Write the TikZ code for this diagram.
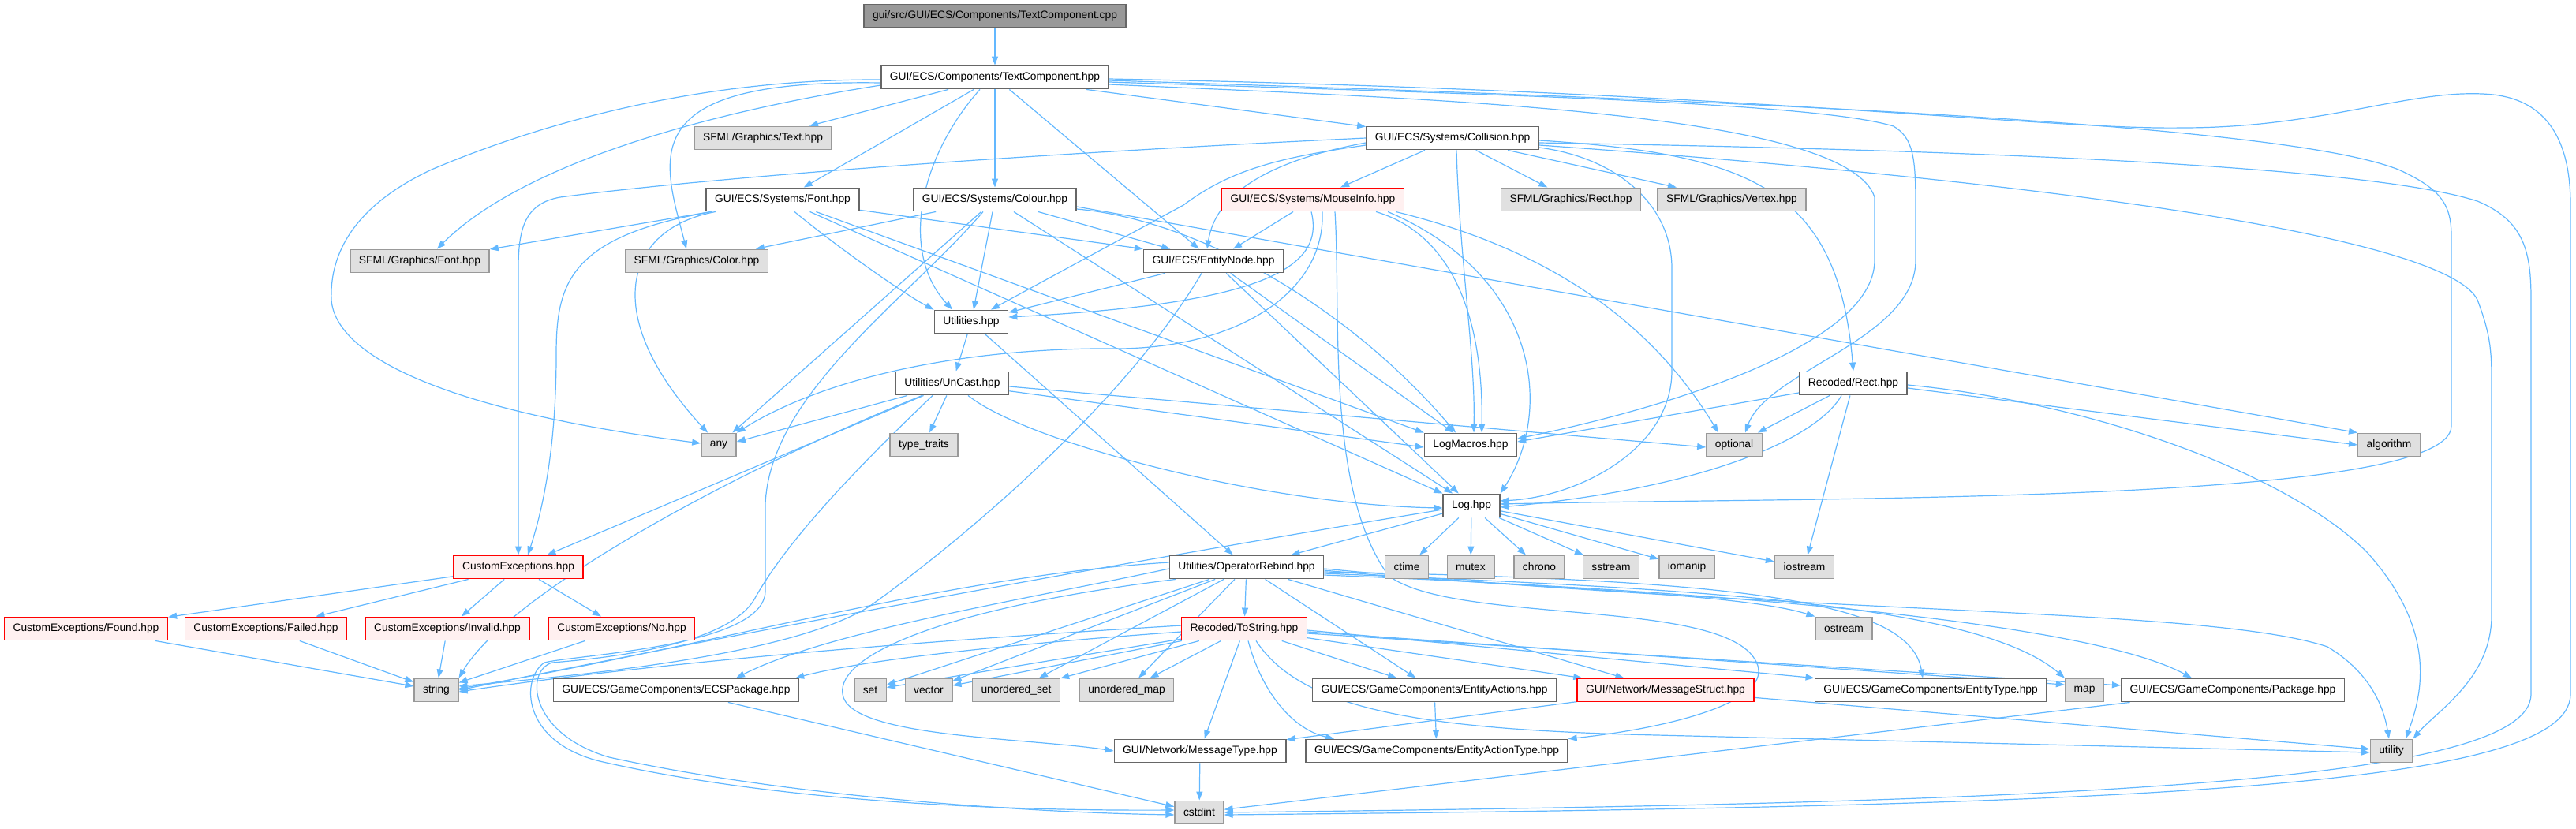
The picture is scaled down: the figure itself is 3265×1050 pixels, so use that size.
\documentclass[tikz,border=0pt]{standalone}
\usepackage{fontspec}
\setmainfont{Liberation Sans}
\usetikzlibrary{arrows.meta}
\pgfdeclarelayer{edges}
\pgfsetlayers{edges,main}
\definecolor{edgeblue}{HTML}{63B8FF}
\definecolor{boxline}{HTML}{666666}
\definecolor{sysline}{HTML}{999999}
\definecolor{sysfill}{HTML}{E0E0E0}
\definecolor{rootfill}{HTML}{999999}
\definecolor{redfill}{HTML}{FFF0F0}
\definecolor{redline}{HTML}{FF0000}
\tikzset{
	box/.style={draw=boxline, fill=white, line width=1.4pt, minimum height=29.5pt, inner xsep=11pt, inner ysep=0pt, font=\fontsize{13.8}{16}\selectfont},
	sys/.style={box, draw=sysline, fill=sysfill},
	trunc/.style={box, draw=redline, fill=redfill},
	root/.style={box, fill=rootfill},
	incl/.style={draw=edgeblue, line width=1.2pt, -{Triangle[length=11pt,width=8pt]}}
}

\begin{document}
\begin{tikzpicture}[x=1pt, y=-1pt]
			%%%%% START %%%%%
			\useasboundingbox (0,0) rectangle (3265,1050);
			
			\node[root] (cpp) at (1261,20) {gui/src/GUI/ECS/Components/TextComponent.cpp};
			\node[box] (tc) at (1261,98) {GUI/ECS/Components/TextComponent.hpp};
			
			\node[sys] (sfText) at (967,175) {SFML/Graphics/Text.hpp};
			\node[box] (coll) at (1841,175) {GUI/ECS/Systems/Collision.hpp};
			
			\node[box] (sysFont) at (992,253) {GUI/ECS/Systems/Font.hpp};
			\node[box] (colour) at (1261,253) {GUI/ECS/Systems/Colour.hpp};
			\node[trunc] (mouse) at (1664,253) {GUI/ECS/Systems/MouseInfo.hpp};
			\node[sys] (sfRect) at (1991,253) {SFML/Graphics/Rect.hpp};
			\node[sys] (sfVertex) at (2195,253) {SFML/Graphics/Vertex.hpp};
			
			\node[sys] (sfFont) at (532,331) {SFML/Graphics/Font.hpp};
			\node[sys] (sfColor) at (883,331) {SFML/Graphics/Color.hpp};
			\node[box] (entity) at (1538,331) {GUI/ECS/EntityNode.hpp};
			
			\node[box] (util) at (1231,408) {Utilities.hpp};
			\node[box] (uncast) at (1207,486) {Utilities/UnCast.hpp};
			\node[box] (rrect) at (2349,486) {Recoded/Rect.hpp};
			
			\node[sys] (any) at (911,564) {any};
			\node[sys] (traits) at (1171,564) {type\_traits};
			\node[box] (logm) at (1864,564) {LogMacros.hpp};
			\node[sys] (optional) at (2198,564) {optional};
			\node[sys] (algorithm) at (3028,564) {algorithm};
			
			\node[box] (log) at (1865,641) {Log.hpp};
			
			\node[trunc] (cexc) at (657,719) {CustomExceptions.hpp};
			\node[box] (oprb) at (1580,719) {Utilities/OperatorRebind.hpp};
			\node[sys] (ctime) at (1783,719) {ctime};
			\node[sys] (mutex) at (1864,719) {mutex};
			\node[sys] (chrono) at (1951,719) {chrono};
			\node[sys] (sstream) at (2042,719) {sstream};
			\node[sys] (iomanip) at (2138,719) {iomanip};
			\node[sys] (iostream) at (2287,719) {iostream};
			
			\node[trunc] (found) at (109,797) {CustomExceptions/Found.hpp};
			\node[trunc] (failed) at (337,797) {CustomExceptions/Failed.hpp};
			\node[trunc] (invalid) at (567,797) {CustomExceptions/Invalid.hpp};
			\node[trunc] (cno) at (788,797) {CustomExceptions/No.hpp};
			\node[trunc] (tostr) at (1577,797) {Recoded/ToString.hpp};
			\node[sys] (ostream) at (2337,797) {ostream};
			
			\node[sys] (string) at (553,875) {string};
			\node[box] (ecspkg) at (857,875) {GUI/ECS/GameComponents/ECSPackage.hpp};
			\node[sys] (set) at (1103,875) {set};
			\node[sys] (vector) at (1177,875) {vector};
			\node[sys] (uset) at (1288,875) {unordered\_set};
			\node[sys] (umap) at (1428,875) {unordered\_map};
			\node[box] (eactions) at (1818,875) {GUI/ECS/GameComponents/EntityActions.hpp};
			\node[trunc] (mstruct) at (2111,875) {GUI/Network/MessageStruct.hpp};
			\node[box] (etype) at (2447,875) {GUI/ECS/GameComponents/EntityType.hpp};
			\node[sys] (map) at (2642,875) {map};
			\node[box] (package) at (2830,875) {GUI/ECS/GameComponents/Package.hpp};
			
			\node[box] (mtype) at (1521,952) {GUI/Network/MessageType.hpp};
			\node[box] (eatype) at (1821,952) {GUI/ECS/GameComponents/EntityActionType.hpp};
			\node[sys] (utility) at (3031,952) {utility};
			
			\node[sys] (cstdint) at (1520,1030) {cstdint};
			
			\begin{pgfonlayer}{edges}
			% TextComponent
			\draw[incl] (cpp) -- (tc);
			\draw[incl] (tc) -- (sfText);
			\draw[incl] (tc) -- (sysFont);
			\draw[incl] (tc) -- (colour);
			\draw[incl] (tc) -- (coll);
			\draw[incl] (tc) -- (entity);
			\draw[incl] ([xshift=-19pt]tc.south) .. controls (1165,200) and (1140,320) .. ([xshift=-24pt]util.north);
			\draw[incl] ([yshift=-7pt]tc.west) .. controls (800,100) and (840,200) .. ([xshift=-13pt]sfColor.north);
			\draw[incl] ([yshift=-10pt]tc.west) .. controls (850,150) and (650,220) .. ([xshift=22pt]sfFont.north);
			\draw[incl] ([yshift=-3pt]tc.west) .. controls (900,100) and (700,150) .. (547,215) .. controls (440,265) and (418,330) .. (420,380) .. controls (425,450) and (560,520) .. ([yshift=2pt]any.west);
			\draw[incl] ([yshift=-9pt]tc.east) .. controls (1800,125) and (2340,140) .. (2376,250) -- (2376,330) .. controls (2376,440) and (2100,520) .. ([yshift=8pt]logm.east);
			\draw[incl] ([yshift=-6pt]tc.east) .. controls (1900,120) and (2300,130) .. (2400,160) .. controls (2425,175) and (2428,200) .. (2428,260) -- (2428,330) .. controls (2428,430) and (2240,470) .. ([xshift=14pt]optional.north);
			\draw[incl] ([yshift=-4pt]tc.east) .. controls (2300,130) and (2900,160) .. (3040,215) .. controls (3095,240) and (3107,260) .. (3107,300) -- (3107,540) .. controls (3107,640) and (2300,630) .. ([yshift=2pt]log.east);
			\draw[incl] ([yshift=-2pt]tc.east) .. controls (2200,115) and (2600,165) .. (2766,162) .. controls (2950,162) and (3060,110) .. (3160,120) .. controls (3230,128) and (3258,180) .. (3258,260) -- (3258,880) .. controls (3258,1000) and (2700,1022) .. ([yshift=-3pt]cstdint.east);
			
			% Collision
			\draw[incl] (coll) -- (mouse);
			\draw[incl] (coll) -- (sfRect);
			\draw[incl] (coll) -- (sfVertex);
			\draw[incl] ([yshift=-6pt]coll.west) .. controls (1600,205) and (1540,250) .. ([xshift=-8pt]entity.north);
			\draw[incl] ([yshift=-9pt]coll.west) .. controls (1620,200) and (1560,215) .. (1500,260) -- ([xshift=25pt]util.north);
			\draw[incl] (coll.west) .. controls (1300,195) and (900,225) .. (710,250) .. controls (665,258) and (657,290) .. (657,340) -- (cexc);
			\draw[incl] ([xshift=5pt]coll.south) .. controls (1850,330) and (1870,450) .. ([xshift=4pt]logm.north);
			\draw[incl] ([yshift=-12pt]coll.east) .. controls (2050,200) and (2119,260) .. (2119,340) -- (2119,470) .. controls (2119,570) and (2000,630) .. ([yshift=6pt]log.east);
			\draw[incl] ([yshift=-3pt]coll.east) .. controls (2220,195) and (2330,240) .. (rrect.north);
			\draw[incl] ([yshift=-6pt]coll.east) .. controls (2500,190) and (3000,210) .. (3140,255) .. controls (3200,280) and (3208,320) .. (3208,380) -- (3208,880) .. controls (3208,995) and (2600,1018) .. (cstdint.east);
			\draw[incl] ([yshift=-9pt]coll.east) .. controls (2600,230) and (3100,300) .. (3140,380) .. controls (3155,420) and (3158,440) .. (3158,480) -- (3158,780) .. controls (3158,860) and (3090,900) .. (utility.north east);
			
			% Font
			\draw[incl] (sysFont) -- (sfFont);
			\draw[incl] ([xshift=-85pt]sysFont.south) .. controls (790,290) and (760,400) .. ([xshift=-14pt]any.north);
			\draw[incl] ([xshift=-90pt]sysFont.south) .. controls (720,300) and (705,360) .. (705,450) .. controls (705,560) and (690,640) .. ([xshift=12pt]cexc.north);
			\draw[incl] ([xshift=15pt]sysFont.south) .. controls (1070,320) and (1150,375) .. (util.north west);
			\draw[incl] (sysFont) -- (entity.north west);
			\draw[incl] (sysFont) -- (logm.north west);
			\draw[incl] (sysFont) -- (log.north west);
			
			% Colour
			\draw[incl] (colour) -- (sfColor);
			\draw[incl] (colour) -- (any);
			\draw[incl] (colour) -- (util);
			\draw[incl] (colour) -- (entity);
			\draw[incl] (colour) -- (log);
			\draw[incl] ([yshift=-12pt]colour.east) .. controls (1530,280) and (1720,400) .. ([xshift=-19pt]logm.north);
			\draw[incl] ([yshift=-9pt]colour.east) -- (algorithm.north west);
			\draw[incl] ([xshift=-15pt]colour.south) .. controls (1150,380) and (975,500) .. (970,640) -- (970,750) .. controls (968,820) and (730,830) .. (690,840) .. controls (660,860) and (660,940) .. (760,965) .. controls (1000,1020) and (1300,1028) .. ([yshift=3pt]cstdint.west);
			
			% MouseInfo
			\draw[incl] (mouse) -- (entity);
			\draw[incl] ([xshift=-2pt]mouse.south) .. controls (1680,340) and (1600,385) .. ([yshift=6pt]util.east);
			\draw[incl] ([xshift=12pt]mouse.south) .. controls (1680,370) and (1570,440) .. (1420,442) .. controls (1250,440) and (1060,470) .. (any.north east);
			\draw[incl] ([xshift=80pt]mouse.south) .. controls (1850,300) and (1880,420) .. ([xshift=14pt]logm.north);
			\draw[incl] ([xshift=95pt]mouse.south) .. controls (1950,350) and (1970,520) .. (log.north east);
			\draw[incl] ([xshift=105pt]mouse.south) .. controls (1980,320) and (2100,420) .. ([xshift=-20pt]optional.north);
			\draw[incl] ([xshift=28pt]mouse.south) .. controls (1700,400) and (1680,620) .. (1760,730) .. controls (1840,790) and (2160,760) .. (2220,830) .. controls (2270,890) and (2100,925) .. (eatype.north east);
			
			% EntityNode
			\draw[incl] (entity) -- (util);
			\draw[incl] (entity) -- (logm);
			\draw[incl] (entity) -- (log);
			\draw[incl] ([xshift=-15pt]entity.south) .. controls (1420,520) and (1200,700) .. (1100,770) .. controls (1000,830) and (750,855) .. ([yshift=5pt]string.east);
			
			% Utilities
			\draw[incl] (util) -- (uncast);
			\draw[incl] (util) -- (oprb);
			\draw[incl] (uncast) -- (traits);
			\draw[incl] (uncast) -- ([yshift=4pt]any.east);
			\draw[incl] (uncast) -- (cexc);
			\draw[incl] (uncast) .. controls (900,610) and (640,760) .. (string.north east);
			\draw[incl] (uncast) -- ([yshift=-3pt]logm.west);
			\draw[incl] ([yshift=-4pt]uncast.east) -- ([yshift=-3pt]optional.west);
			\draw[incl] ([xshift=20pt]uncast.south) .. controls (1300,560) and (1600,640) .. ([yshift=-3pt]log.west);
			\draw[incl] ([xshift=-25pt]uncast.south) .. controls (1100,580) and (1000,680) .. (956,760) .. controls (920,820) and (760,835) .. (700,840) .. controls (665,850) and (670,930) .. (772,960) .. controls (1000,1010) and (1300,1030) .. ([yshift=-3pt]cstdint.west);
			
			% Recoded/Rect
			\draw[incl] (rrect) -- (optional);
			\draw[incl] (rrect) -- ([yshift=4pt]logm.east);
			\draw[incl] ([xshift=-15pt]rrect.south) .. controls (2300,560) and (2150,620) .. ([yshift=-2pt]log.east);
			\draw[incl] (rrect) -- (iostream);
			\draw[incl] ([yshift=-6pt]rrect.east) -- (algorithm.west);
			\draw[incl] ([yshift=-2pt]rrect.east) .. controls (2650,510) and (2900,600) .. (3000,700) .. controls (3090,800) and (3070,880) .. ([xshift=18pt]utility.north);
			
			% Log
			\draw[incl] (log) -- (oprb);
			\draw[incl] (log) -- (ctime);
			\draw[incl] (log) -- (mutex);
			\draw[incl] (log) -- (chrono);
			\draw[incl] (log) -- (sstream);
			\draw[incl] (log) -- (iomanip);
			\draw[incl] (log) -- (iostream);
			\draw[incl] ([yshift=-5pt]log.west) .. controls (1500,700) and (1050,780) .. (string.east);
			
			% CustomExceptions
			\draw[incl] (cexc) -- (found);
			\draw[incl] (cexc) -- (failed);
			\draw[incl] (cexc) -- (invalid);
			\draw[incl] (cexc) -- (cno);
			\draw[incl] (found) -- (string);
			\draw[incl] (failed) -- (string);
			\draw[incl] (invalid) -- (string);
			\draw[incl] (cno) -- (string);
			
			% OperatorRebind
			\draw[incl] (oprb) -- (tostr);
			\draw[incl] (oprb) -- (set);
			\draw[incl] (oprb) -- (vector);
			\draw[incl] (oprb) -- (uset);
			\draw[incl] (oprb) -- (umap);
			\draw[incl] ([yshift=6pt]oprb.west) .. controls (1200,730) and (900,820) .. ([yshift=2pt]string.east);
			\draw[incl] ([yshift=-2pt]oprb.west) .. controls (1300,760) and (1050,800) .. ([xshift=76pt]ecspkg.north);
			\draw[incl] ([xshift=-90pt]oprb.south) .. controls (1200,770) and (1060,830) .. (1068,880) .. controls (1075,935) and (1300,935) .. (mtype.west);
			\draw[incl] (oprb) -- (eactions);
			\draw[incl] (oprb) -- (mstruct);
			\draw[incl] ([yshift=-4pt]oprb.east) .. controls (1900,745) and (2200,750) .. (ostream.north west);
			\draw[incl] ([yshift=-6pt]oprb.east) .. controls (2200,735) and (2420,760) .. ([xshift=-10pt]etype.north);
			\draw[incl] ([yshift=-8pt]oprb.east) .. controls (2100,745) and (2500,760) .. (map.north west);
			\draw[incl] ([yshift=-10pt]oprb.east) .. controls (2200,750) and (2650,790) .. ([xshift=-52pt]package.north);
			\draw[incl] ([yshift=-2pt]oprb.east) .. controls (2300,780) and (2800,770) .. (2950,820) .. controls (3000,850) and (3020,890) .. ([xshift=-3pt]utility.north);
			
			% ToString
			\draw[incl] (tostr) -- (set);
			\draw[incl] (tostr) -- (vector);
			\draw[incl] (tostr) -- (uset);
			\draw[incl] (tostr) -- (umap);
			\draw[incl] ([yshift=4pt]tostr.west) .. controls (1300,805) and (900,830) .. ([yshift=-2pt]string.east);
			\draw[incl] ([yshift=-4pt]tostr.west) .. controls (1300,815) and (1100,835) .. ([xshift=-5pt]ecspkg.north east);
			\draw[incl] (tostr) -- (eactions);
			\draw[incl] (tostr) -- (mstruct);
			\draw[incl] (tostr) -- (mtype);
			\draw[incl] ([xshift=5pt]tostr.south) .. controls (1600,880) and (1640,925) .. ([xshift=-130pt]eatype.north);
			\draw[incl] ([yshift=-2pt]tostr.east) -- (etype.north west);
			\draw[incl] ([yshift=-4pt]tostr.east) -- ([yshift=7pt]map.west);
			\draw[incl] ([yshift=-6pt]tostr.east) -- ([yshift=6pt]package.west);
			\draw[incl] ([xshift=15pt]tostr.south) .. controls (1650,900) and (1800,925) .. (2100,932) -- ([yshift=-2pt]utility.west);
			
			% remaining
			\draw[incl] (mstruct) -- (mtype);
			\draw[incl] (mstruct) -- (utility);
			\draw[incl] (eactions) -- (eatype);
			\draw[incl] (mtype) -- (cstdint);
			\draw[incl] (ecspkg) -- (cstdint);
			\draw[incl] (package) -- (cstdint);
			\end{pgfonlayer}
			
			%%%%% END %%%%%
\end{tikzpicture}
\end{document}
